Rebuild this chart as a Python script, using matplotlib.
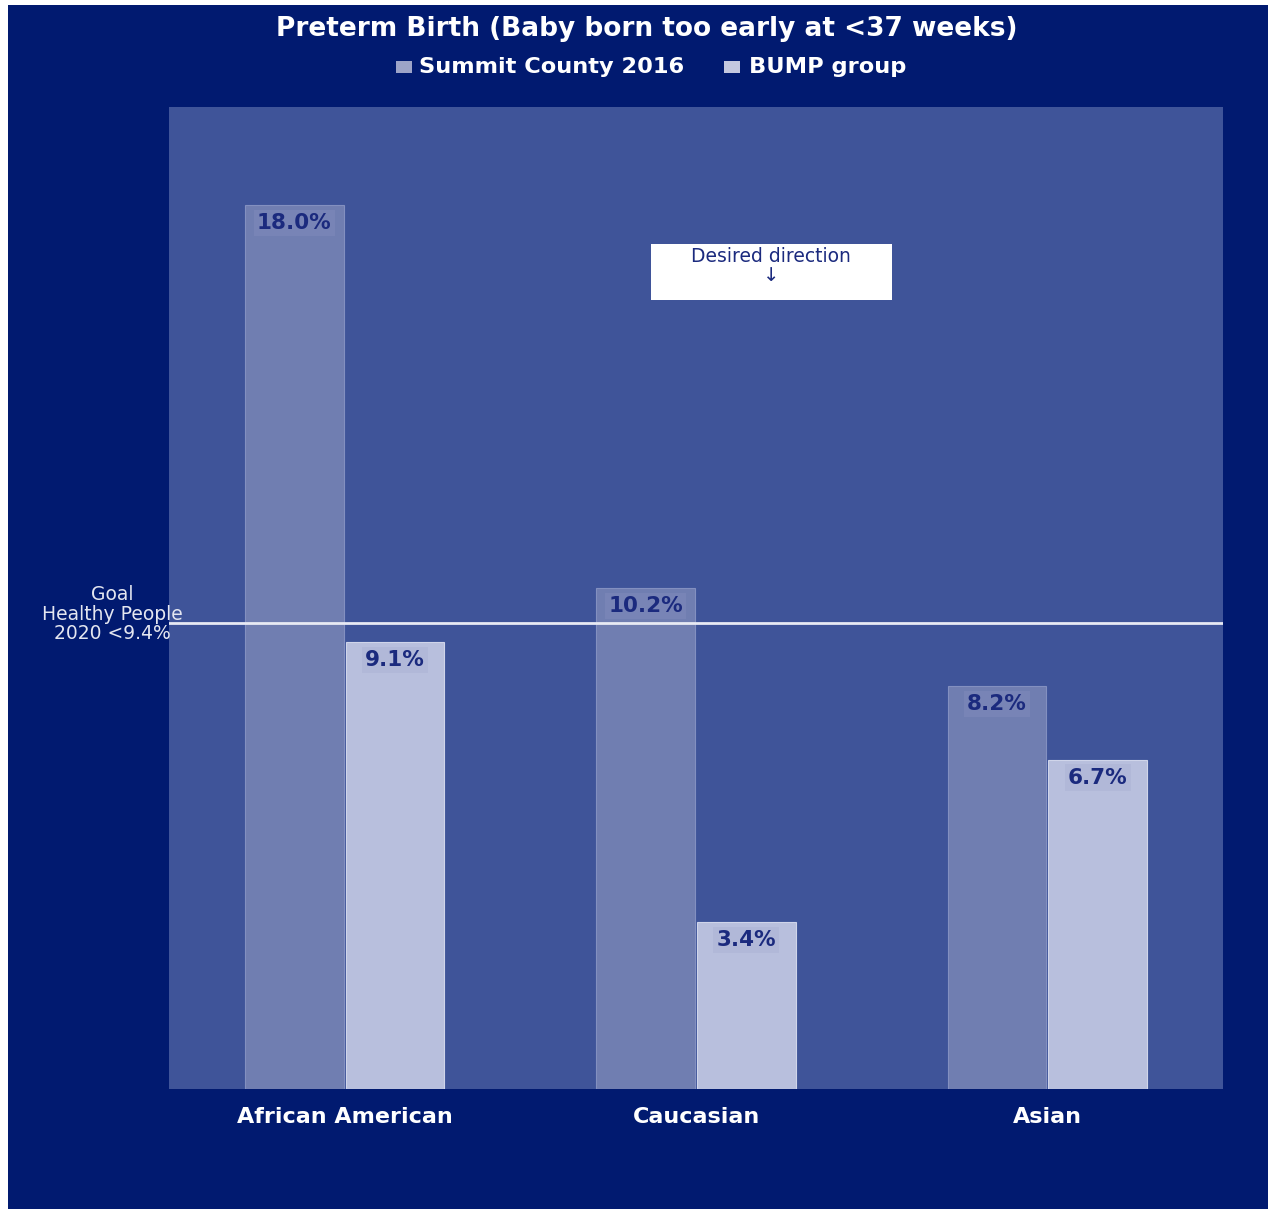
import matplotlib
matplotlib.use("Agg")
import matplotlib.pyplot as plt
from matplotlib.patches import Rectangle
import numpy as np

categories = ["African American", "Caucasian", "Asian"]
series_names = ["Summit County 2016", "BUMP group"]
summit = [18.0, 10.2, 8.2]
bump = [9.1, 3.4, 6.7]
goal = 9.4
title = "Preterm Birth (Baby born too early at <37 weeks)"

W, H = 1268, 1209
fig = plt.figure(figsize=(W / 100, H / 100), dpi=100)
fig.patch.set_facecolor("white")
fig.patches.append(Rectangle((8 / W, 0), 1 - 8 / W, 1 - 5 / H, transform=fig.transFigure,
                             facecolor="#011A70", edgecolor="none", zorder=-10))

ax = fig.add_axes([169 / W, 1 - 1089 / H, (1223 - 169) / W, (1089 - 107) / H])
ax.set_facecolor("#3F5499")
for s in ax.spines.values():
    s.set_visible(False)

x = np.arange(len(categories))
bw = 0.281
c1, c2 = "#707EB1", "#B8BFDD"
b1 = ax.bar(x - bw / 2 - 0.003, summit, bw, color=c1, edgecolor="#8390C0", linewidth=0.8, zorder=2)
b2 = ax.bar(x + bw / 2 + 0.003, bump, bw, color=c2, edgecolor="#D0D5EA", linewidth=0.8, zorder=2)

ax.set_xlim(-0.5, 2.5)
ax.set_ylim(0, 20)
ax.set_yticks([])
ax.set_xticks(x)
ax.set_xticklabels(categories, color="white", fontsize=16, fontweight="bold")
ax.tick_params(axis="x", length=0, pad=13)

for bars, vals, bg in ((b1, summit, "#7884B6"), (b2, bump, "#B1B8D8")):
    for r, v in zip(bars, vals):
        ax.text(r.get_x() + r.get_width() / 2, v - 0.36, f"{v:.1f}%", ha="center", va="center",
                fontsize=15.5, fontweight="bold", color="#1B2A7E", zorder=4,
                bbox=dict(boxstyle="square,pad=0.15", facecolor=bg, edgecolor="none"))

ax.axhline(goal + 0.1, color="#E8EAF4", linewidth=2, zorder=3)
fig.text(112 / W, 1 - 614 / H, "Goal\nHealthy People\n2020 <9.4%", ha="center", va="center",
         color="#E4E6F0", fontsize=13.5, linespacing=1.05)

# Desired direction box
fig.patches.append(Rectangle((651 / W, 1 - 300 / H), (892 - 651) / W, 56 / H, transform=fig.transFigure,
                             facecolor="white", edgecolor="none", zorder=5))
fig.text(771 / W, 1 - 257 / H, "Desired direction", ha="center", va="center",
         color="#1B2A7E", fontsize=13.5, zorder=6)
fig.text(771 / W, 1 - 276 / H, "\u2193", ha="center", va="center",
         color="#1B2A7E", fontsize=14, zorder=6)

fig.text(647 / W, 1 - 29 / H, title, ha="center", va="center", color="white",
         fontsize=19, fontweight="bold")

# legend
for mx, lbl, col, tx in ((396, series_names[0], "#9DA4C8", 419), (724, series_names[1], "#C4C8DF", 749)):
    fig.patches.append(Rectangle((mx / W, 1 - 73 / H), 16 / W, 12 / H, transform=fig.transFigure,
                                 facecolor=col, edgecolor="none"))
    fig.text(tx / W, 1 - 67 / H, lbl, ha="left", va="center", color="white",
             fontsize=16.2, fontweight="bold")

fig.savefig("out.png", dpi=100, facecolor=fig.get_facecolor())
